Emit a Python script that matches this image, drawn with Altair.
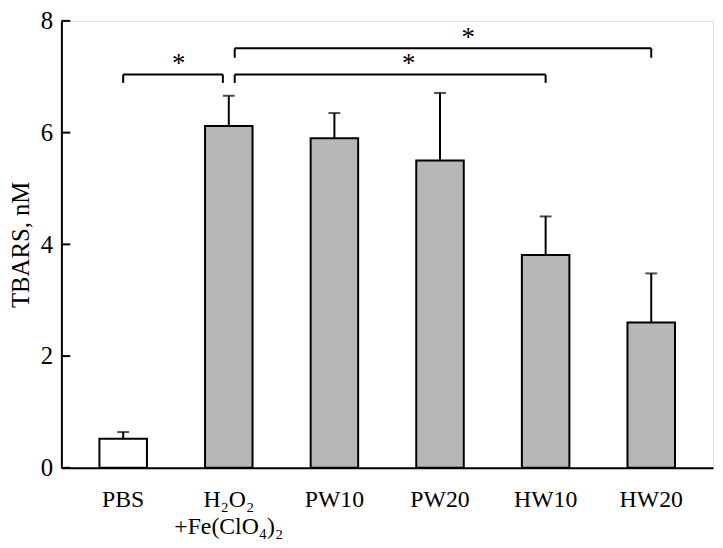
import altair as alt
import pandas as pd

H2O2 = "H₂O₂|+Fe(ClO₄)₂"
categories = ["PBS", H2O2, "PW10", "PW20", "HW10", "HW20"]
means = [0.52, 6.12, 5.90, 5.50, 3.81, 2.60]
upper = [0.64, 6.66, 6.35, 6.71, 4.50, 3.48]
fills = ["#ffffff", "#b7b7b7", "#b7b7b7", "#b7b7b7", "#b7b7b7", "#b7b7b7"]
y_ticks = [0, 2, 4, 6, 8]

# significance brackets
br_from = ["PBS", H2O2, H2O2]
br_to = [H2O2, "HW10", "HW20"]
br_level = [7.04, 7.04, 7.51]
br_drop = [6.89, 6.89, 7.34]
br_from_dx = [0, 6, 6]
br_to_dx = [-6, 0, 0]
star_anchor = ["PBS", H2O2, H2O2]
star_dx = [56, 182, 242]
star_y = [7.08, 7.08, 7.55]

FONT = "Liberation Serif"

df = pd.DataFrame({"cat": categories, "mean": means, "upper": upper, "fill": fills})
ticks_df = pd.DataFrame({"v": y_ticks})

xscale = alt.Scale(domain=categories, paddingInner=0.55, paddingOuter=0.36)
yscale = alt.Scale(domain=[0, 8], nice=False, zero=True)

X = alt.X("cat:N", scale=xscale, sort=categories,
          axis=alt.Axis(title=None, labelAngle=0, ticks=False, tickSize=0,
                        labelExpr="split(datum.label, '|')",
                        labelFont=FONT, labelFontSize=24, labelLineHeight=27,
                        labelBaseline="top", labelPadding=20, labelColor="black",
                        domainColor="black", domainWidth=2, grid=False))
Y = alt.Y("mean:Q", scale=yscale,
          axis=alt.Axis(title="TBARS, nM", values=y_ticks, format="d",
                        ticks=False, tickSize=0,
                        labelFont=FONT, labelFontSize=25, labelPadding=9,
                        labelColor="black", domainColor="black", domainWidth=2,
                        grid=False, titleFont=FONT, titleFontSize=25,
                        titleFontWeight="normal", titleColor="black",
                        titleX=-41, titleY=226, titleAngle=-90,
                        titleAlign="center", titleBaseline="middle"))

bars = alt.Chart(df).mark_bar(stroke="black", strokeWidth=2).encode(
    x=X, y=Y, fill=alt.Fill("fill:N", scale=None))

err = alt.Chart(df).mark_rule(color="black", strokeWidth=2).encode(
    x=alt.X("cat:N", scale=xscale, sort=categories),
    y=alt.Y("mean:Q", scale=yscale), y2="upper:Q")

cap = alt.Chart(df).mark_tick(color="black", orient="horizontal", size=12, thickness=2).encode(
    x=alt.X("cat:N", scale=xscale, sort=categories),
    y=alt.Y("upper:Q", scale=yscale))

yticks = alt.Chart(ticks_df).mark_rule(color="black", strokeWidth=2).encode(
    y=alt.Y("v:Q", scale=yscale), x=alt.value(0), x2=alt.value(9))

layers = [bars, err, cap, yticks]

for i in range(len(br_from)):
    bdf = pd.DataFrame({"a": [br_from[i]], "b": [br_to[i]],
                        "lev": [br_level[i]], "drop": [br_drop[i]]})
    base = alt.Chart(bdf)
    layers.append(base.mark_rule(color="black", strokeWidth=2,
                                 xOffset=br_from_dx[i], x2Offset=br_to_dx[i]).encode(
        x=alt.X("a:N", scale=xscale, sort=categories),
        x2="b:N",
        y=alt.Y("lev:Q", scale=yscale)))
    layers.append(base.mark_rule(color="black", strokeWidth=2, xOffset=br_from_dx[i]).encode(
        x=alt.X("a:N", scale=xscale, sort=categories),
        y=alt.Y("lev:Q", scale=yscale), y2="drop:Q"))
    layers.append(base.mark_rule(color="black", strokeWidth=2, xOffset=br_to_dx[i]).encode(
        x=alt.X("b:N", scale=xscale, sort=categories),
        y=alt.Y("lev:Q", scale=yscale), y2="drop:Q"))
    sdf = pd.DataFrame({"a": [star_anchor[i]], "y": [star_y[i]], "t": ["*"]})
    layers.append(alt.Chart(sdf).mark_text(font=FONT, fontSize=27, fill="black",
                                           dx=star_dx[i], baseline="alphabetic",
                                           align="center").encode(
        x=alt.X("a:N", scale=xscale, sort=categories),
        y=alt.Y("y:Q", scale=yscale), text="t:N"))

chart = alt.layer(*layers).properties(
    width=659, height=452,
    padding={"left": 54, "top": 10, "right": 2, "bottom": 74},
    autosize=alt.AutoSizeParams(type="none"),
).configure_view(stroke="black", strokeWidth=2).configure(background="white")

chart.save("out.html", embed_options={"renderer": "svg", "actions": False})
